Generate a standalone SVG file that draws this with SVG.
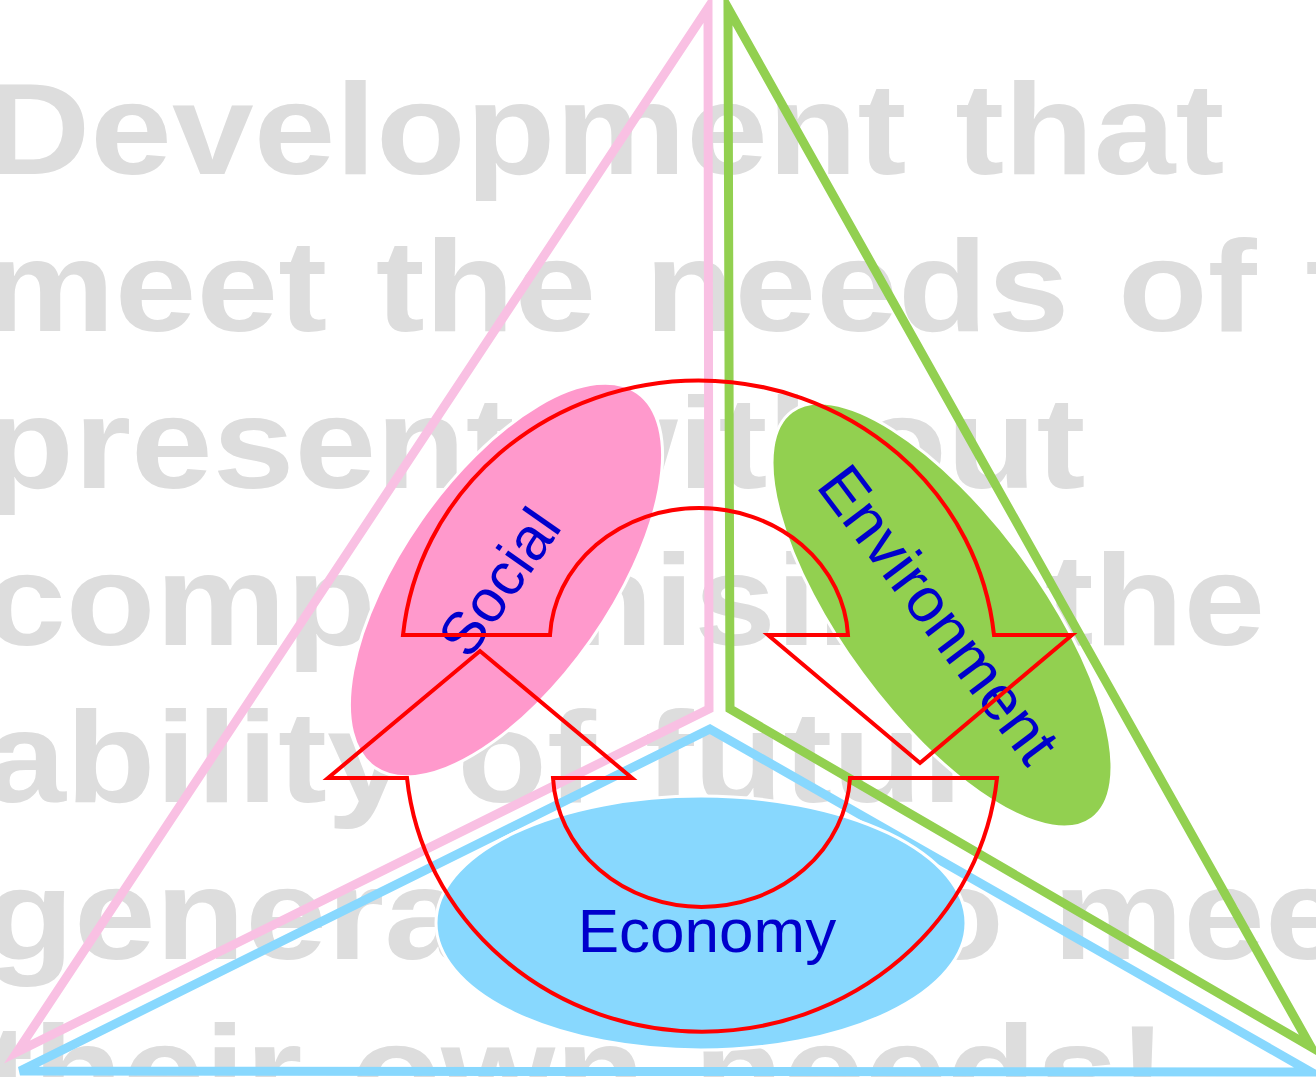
<svg xmlns="http://www.w3.org/2000/svg" width="1316" height="1077" viewBox="0 0 1316 1077">
  <style>
    .bg { font-family: "Liberation Sans", Arial, sans-serif; font-weight: bold; font-size: 130px; fill: #DDDDDD; word-spacing: 7px; }
    .edge { fill: none; stroke-width: 9; stroke-linejoin: miter; }
    .pink { stroke: #F9C0E3; }
    .green { stroke: #92D050; }
    .blue { stroke: #88D8FE; }
    .blob { stroke: #FFFFFF; stroke-width: 3; }
    .label { font-family: "Liberation Sans", Arial, sans-serif; font-size: 60px; fill: #0000CC; text-anchor: middle; }
    .cycle { fill: none; stroke: #FF0000; stroke-width: 4; stroke-linejoin: miter; }
  </style>

  <rect width="1316" height="1077" fill="#FFFFFF"/>

  <!-- watermark sentence behind the diagram -->
  <g id="backdrop-text" class="bg" transform="scale(1.13,1)">
    <text x="-14" y="174">Development that</text>
    <text x="-14" y="331">meet the needs of the</text>
    <text x="-14" y="488">present without</text>
    <text x="-14" y="645">compromising the</text>
    <text x="-14" y="802">ability of future</text>
    <text x="-14" y="959">generations to meet</text>
    <text x="-14" y="1116">their own needs!</text>
  </g>

  <!-- three faces of the pyramid -->
  <g id="pyramid">
    <polygon class="edge pink" points="708,8 709,709 17,1052"/>
    <polygon class="edge green" points="728,8 730,709 1311,1047"/>
    <polygon class="edge blue" points="710,729 20,1071 1311,1072"/>
  </g>

  <g id="node-social">
    <ellipse class="blob" cx="506" cy="580" rx="229" ry="104" fill="#FF99CC" transform="rotate(-55 506 580)"/>
    <text class="label" transform="translate(499 582) rotate(-55)" y="21">Social</text>
  </g>

  <g id="node-environment">
    <ellipse class="blob" cx="942" cy="615" rx="253" ry="99" fill="#92D050" transform="rotate(53.6 942 615)"/>
    <text class="label" transform="translate(939 614) rotate(53)" y="22" style="font-size:63px">Environment</text>
  </g>

  <g id="node-economy">
    <ellipse class="blob" cx="701" cy="923" rx="265" ry="127" fill="#88D8FE"/>
    <text class="label" x="707" y="952" style="font-size:62px">Economy</text>
  </g>

  <!-- cycle arrows: Social to Environment, Environment to Economy to Social -->
  <g id="connectors">
    <path class="cycle" d="M403,635 L550,635 A149.2 134 0 0 1 848,635 L768,635 L920,763 L1072,635 L994,635 A297 283 0 0 0 403,635 Z"/>
    <path class="cycle" d="M850,778 L997,778 A296.5 282 0 0 1 407,778 L328,778 L480,651 L632,778 L553,778 A148.7 136 0 0 0 850,778 Z"/>
  </g>
</svg>
